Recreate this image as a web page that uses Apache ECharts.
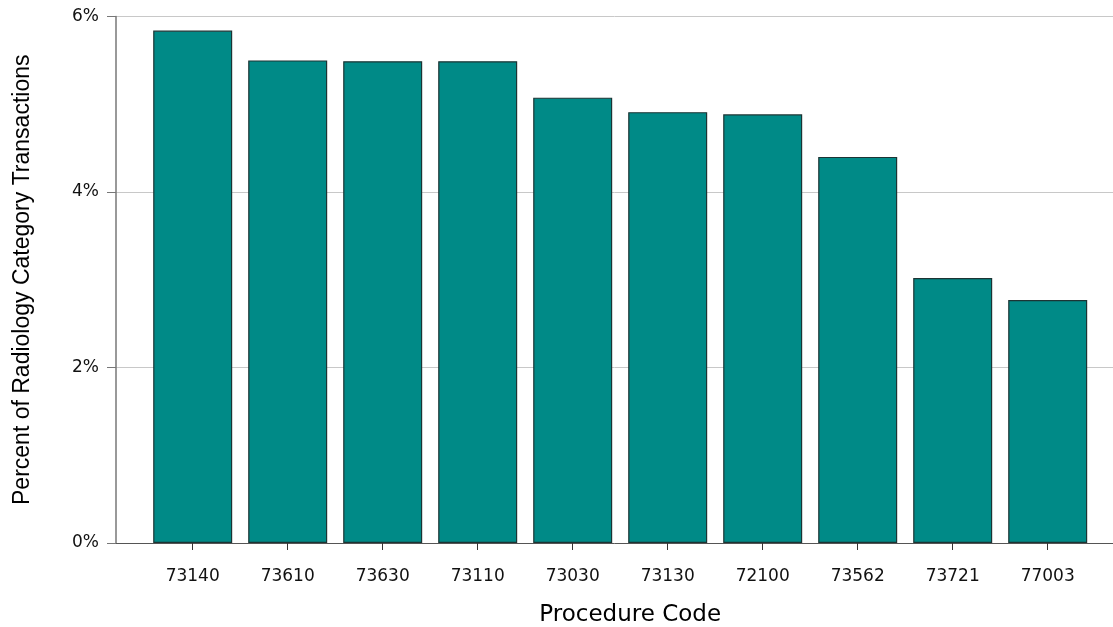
<!DOCTYPE html>
<html>
<head>
<meta charset="utf-8">
<script src="https://cdn.jsdelivr.net/npm/echarts@6/dist/echarts.min.js"></script>
<style>html,body{margin:0;padding:0;background:#fff;}#c{width:1113px;height:627px;}</style>
</head>
<body>
<div id="c"></div>
<script>
const categories = ['73140','73610','73630','73110','73030','73130','72100','73562','73721','77003'];
const values = [5.84, 5.50, 5.49, 5.49, 5.075, 4.91, 4.885, 4.40, 3.02, 2.77];
const yTicks = [0, 2, 4, 6];

const chart = echarts.init(document.getElementById('c'), null, {renderer: 'canvas'});
const yMin = yTicks[0], yMax = yTicks[yTicks.length - 1];
chart.setOption({
  animation: false,
  backgroundColor: '#ffffff',
  grid: [
    {left: 116, right: 0, top: 16.5, bottom: 84, containLabel: false, outerBoundsMode: 'none'},
    {left: 145.2, right: 17.8, top: 16.5, bottom: 84, containLabel: false, outerBoundsMode: 'none'}
  ],
  xAxis: [
    {
      gridIndex: 0, type: 'value', min: 0, max: 1,
      axisLine: {show: true, lineStyle: {color: '#555', width: 1}},
      axisTick: {show: false}, axisLabel: {show: false}, splitLine: {show: false}
    },
    {
      gridIndex: 1, type: 'category', data: categories,
      axisLine: {show: false},
      axisTick: {show: true, alignWithLabel: true, length: 7, lineStyle: {color: '#333'}},
      axisLabel: {margin: 25, fontFamily: 'DejaVu Sans', fontSize: 17, color: '#111', lineHeight: 17},
      name: 'Procedure Code', nameLocation: 'middle', nameGap: 61,
      nameTextStyle: {fontFamily: 'DejaVu Sans', fontSize: 23, color: '#000', lineHeight: 23, padding: [0, 0, 0, 20]}
    }
  ],
  yAxis: [
    {
      gridIndex: 0, type: 'value', min: yMin, max: yMax, interval: 2,
      axisLine: {show: true, lineStyle: {color: '#777', width: 1.5}},
      axisTick: {show: true, length: 9, lineStyle: {color: '#777'}},
      axisLabel: {margin: 17, fontFamily: 'DejaVu Sans', fontSize: 17, color: '#111', formatter: v => v + '%'},
      splitLine: {show: true, lineStyle: {color: '#c8c8c8', width: 1}},
      name: 'Percent of Radiology Category Transactions', nameLocation: 'middle', nameGap: 82,
      nameTextStyle: {fontFamily: 'Liberation Sans', fontSize: 23, color: '#000', lineHeight: 23}
    },
    {
      gridIndex: 1, type: 'value', min: yMin, max: yMax, interval: 2, show: false,
      splitLine: {show: false}
    }
  ],
  series: [{
    type: 'bar', xAxisIndex: 1, yAxisIndex: 1, data: values, barWidth: 79,
    itemStyle: {color: '#008a87', borderColor: '#1c3434', borderWidth: 1.2}
  }]
});
</script>
</body>
</html>
